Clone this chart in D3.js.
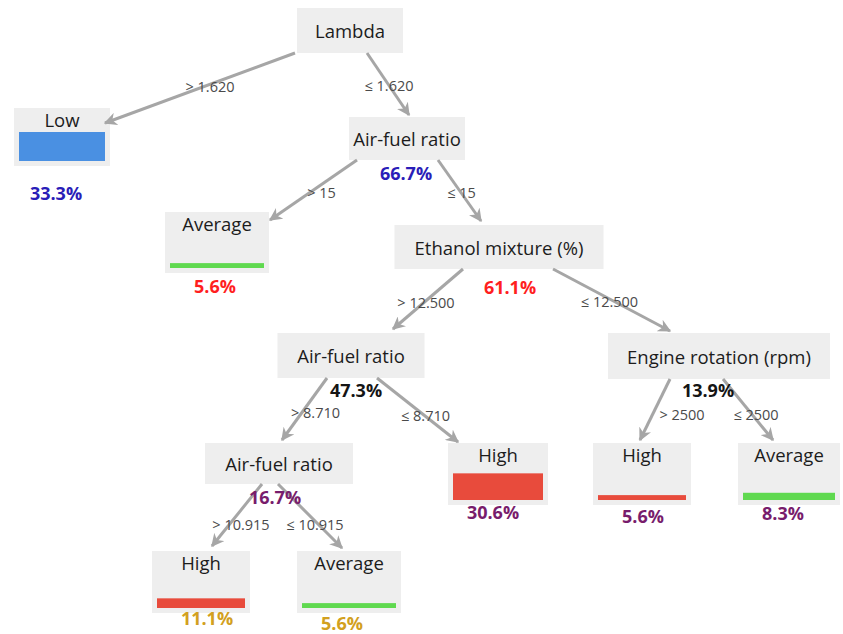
<!DOCTYPE html>
<html lang="en">
<head>
    <meta charset="UTF-8">
    <title>Decision tree | D3</title>
    <style>
        body { margin: 0; background: #fff; }
        svg { display: block; font-family: "Open Sans", sans-serif; }
    </style>
</head>
<body>
    <div class="graph-container"></div>

    <script type="text/javascript" src="https://d3js.org/d3.v7.min.js"></script>
    <script type="text/javascript">
        // Tree data
        var nodeIds = ["lambda", "low", "afr1", "avg1", "eth", "afr2", "eng", "afr3", "high1", "high2", "avg2", "high3", "avg3"];
        var parentIds = ["", "lambda", "lambda", "afr1", "afr1", "eth", "eth", "afr2", "afr2", "eng", "eng", "afr3", "afr3"];
        var nodeLabels = ["Lambda", "Low", "Air-fuel ratio", "Average", "Ethanol mixture (%)", "Air-fuel ratio",
            "Engine rotation (rpm)", "Air-fuel ratio", "High", "High", "Average", "High", "Average"];
        var shares = [null, 33.3, 66.7, 5.6, 61.1, 47.3, 13.9, 16.7, 30.6, 5.6, 8.3, 11.1, 5.6];
        var splitLabels = ["", "> 1.620", "\u2264 1.620", "> 15", "\u2264 15", "> 12.500", "\u2264 12.500",
            "> 8.710", "\u2264 8.710", "> 2500", "\u2264 2500", "> 10.915", "\u2264 10.915"];
        var classes = ["Low", "Average", "High"];

        // Layout of the boxes: centre x, top, width, height
        var layout = {
            lambda: { cx: 350, top: 8,   w: 106, h: 45 },
            low:    { cx: 62,  top: 108, w: 96,  h: 58 },
            afr1:   { cx: 407, top: 117, w: 116, h: 43 },
            avg1:   { cx: 217, top: 212, w: 104, h: 61 },
            eth:    { cx: 499, top: 225, w: 209, h: 44 },
            afr2:   { cx: 351, top: 333, w: 147, h: 45 },
            eng:    { cx: 719, top: 333, w: 222, h: 46 },
            afr3:   { cx: 279, top: 443, w: 148, h: 41 },
            high1:  { cx: 498, top: 443, w: 100, h: 62 },
            high2:  { cx: 642, top: 443, w: 98,  h: 62 },
            avg2:   { cx: 789, top: 443, w: 102, h: 62 },
            high3:  { cx: 201, top: 551, w: 98,  h: 62 },
            avg3:   { cx: 349, top: 551, w: 104, h: 62 }
        };
        // Edge anchors (keyed by child): start offset on parent bottom, tip offset on child, label shift
        var edgeLayout = {
            low:   { sdx: -55, tdx: 43,  tdy: 15, ldx: 10, ldy: -2 },
            afr1:  { sdx: 17,  tdx: 2,   tdy: -2, ldx: 1,  ldy: 1 },
            avg1:  { sdx: -50, tdx: 53,  tdy: 8,  ldx: 8,  ldy: 2 },
            eth:   { sdx: 31,  tdx: -18, tdy: -4, ldx: 2,  ldy: 2 },
            afr2:  { sdx: -36, tdx: 42,  tdy: -4, ldx: -2, ldy: 3 },
            eng:   { sdx: 54,  tdx: -49, tdy: -2, ldx: -2, ldy: 1 },
            afr3:  { sdx: -24, tdx: 3,   tdy: -3, ldx: 11, ldy: 3 },
            high1: { sdx: 26,  tdx: -40, tdy: -1, ldx: 8,  ldy: 5 },
            high2: { sdx: -49, tdx: -2,  tdy: -3, ldx: 27, ldy: 5 },
            avg2:  { sdx: 4,   tdx: -16, tdy: -3, ldx: 8,  ldy: 5 },
            high3: { sdx: -17, tdx: 11,  tdy: -5, ldx: 4,  ldy: 9 },
            avg3:  { sdx: -1,  tdx: -7,  tdy: -3, ldx: 5,  ldy: 8 }
        };
        // Percentage label offset from box centre x / box bottom
        var shareLayout = {
            low: [-6, 27], afr1: [-1, 13], avg1: [-2, 13], eth: [11, 18], afr2: [5, 12], eng: [-11, 11],
            afr3: [-4, 13], high1: [-5, 7], high2: [1, 11], avg2: [-6, 8], high3: [6, 5], avg3: [-7, 10]
        };

        var width = 843, height = 634;

        var rows = nodeIds.map(function(id, i) {
            return { id: id, parent: parentIds[i] || null, label: nodeLabels[i], share: shares[i], split: splitLabels[i] };
        });
        var root = d3.stratify().id(function(d) { return d.id; }).parentId(function(d) { return d.parent; })(rows);

        var classColor = d3.scaleOrdinal().domain(classes).range(["#4a90e2", "#5fd94f", "#e84b3c"]);
        var depthColor = d3.scaleOrdinal().domain([1, 2, 3, 4, 5])
            .range(["#2a1db8", "#ff1f1f", "#151515", "#781c6c", "#d2a020"]);
        var barHeight = d3.scaleLinear().domain([0, 33.3]).range([0, 29]);

        var svg = d3.select(".graph-container").append("svg")
            .attr("width", width)
            .attr("height", height);

        svg.append("defs").append("marker")
            .attr("id", "arrow")
            .attr("viewBox", "0 0 10 10")
            .attr("refX", 9).attr("refY", 5)
            .attr("markerWidth", 13).attr("markerHeight", 13)
            .attr("markerUnits", "userSpaceOnUse")
            .attr("orient", "auto")
            .append("path")
            .attr("d", "M0,0 L10,5 L0,10 L3,5 Z")
            .attr("fill", "#a6a6a6");

        function edgePoints(link) {
            var p = layout[link.source.id], c = layout[link.target.id], e = edgeLayout[link.target.id];
            return {
                x1: p.cx + e.sdx, y1: p.top + p.h,
                x2: c.cx + e.tdx, y2: c.top + e.tdy,
                e: e
            };
        }

        var links = root.links();

        // Boxes
        var nodes = svg.append("g").attr("class", "nodes")
            .selectAll("g")
            .data(root.descendants())
            .enter().append("g");

        nodes.append("rect")
            .attr("x", function(d) { return layout[d.id].cx - layout[d.id].w / 2; })
            .attr("y", function(d) { return layout[d.id].top; })
            .attr("width", function(d) { return layout[d.id].w; })
            .attr("height", function(d) { return layout[d.id].h; })
            .attr("fill", "#eeeeee");

        nodes.append("text")
            .attr("x", function(d) { return layout[d.id].cx; })
            .attr("y", function(d) {
                var l = layout[d.id];
                return d.children ? l.top + l.h / 2 : l.top + 11;
            })
            .attr("text-anchor", "middle")
            .attr("dominant-baseline", "central")
            .attr("font-size", 18.5)
            .attr("fill", "#1c1c1c")
            .text(function(d) { return d.data.label; });

        // Class bars on the leaves
        var leaves = nodes.filter(function(d) { return !d.children; });
        leaves.append("rect")
            .attr("x", function(d) { return layout[d.id].cx - layout[d.id].w / 2 + 5; })
            .attr("width", function(d) { return layout[d.id].w - 10; })
            .attr("y", function(d) { var l = layout[d.id]; return l.top + l.h - 5 - barHeight(d.data.share); })
            .attr("height", function(d) { return barHeight(d.data.share); })
            .attr("fill", function(d) { return classColor(d.data.label); });

        // Edges
        var edges = svg.append("g").attr("class", "edges")
            .selectAll("g")
            .data(links)
            .enter().append("g");

        edges.append("line")
            .each(function(d) {
                var p = edgePoints(d);
                d3.select(this)
                    .attr("x1", p.x1).attr("y1", p.y1)
                    .attr("x2", p.x2).attr("y2", p.y2);
            })
            .attr("stroke", "#a6a6a6")
            .attr("stroke-width", 3)
            .attr("marker-end", "url(#arrow)");

        edges.append("text")
            .attr("x", function(d) { var p = edgePoints(d); return (p.x1 + p.x2) / 2 + p.e.ldx; })
            .attr("y", function(d) { var p = edgePoints(d); return (p.y1 + p.y2) / 2 + p.e.ldy; })
            .attr("text-anchor", "middle")
            .attr("dominant-baseline", "central")
            .attr("font-size", 14.5)
            .attr("fill", "#4a4a4a")
            .text(function(d) { return d.target.data.split; });

        // Share labels
        svg.append("g").attr("class", "shares")
            .selectAll("text")
            .data(root.descendants().filter(function(d) { return d.data.share != null; }))
            .enter().append("text")
            .attr("x", function(d) { return layout[d.id].cx + shareLayout[d.id][0]; })
            .attr("y", function(d) { return layout[d.id].top + layout[d.id].h + shareLayout[d.id][1]; })
            .attr("text-anchor", "middle")
            .attr("dominant-baseline", "central")
            .attr("font-size", 18)
            .attr("font-weight", "bold")
            .attr("fill", function(d) { return depthColor(d.depth); })
            .text(function(d) { return d3.format(".1f")(d.data.share) + "%"; });
    </script>
</body>
</html>
